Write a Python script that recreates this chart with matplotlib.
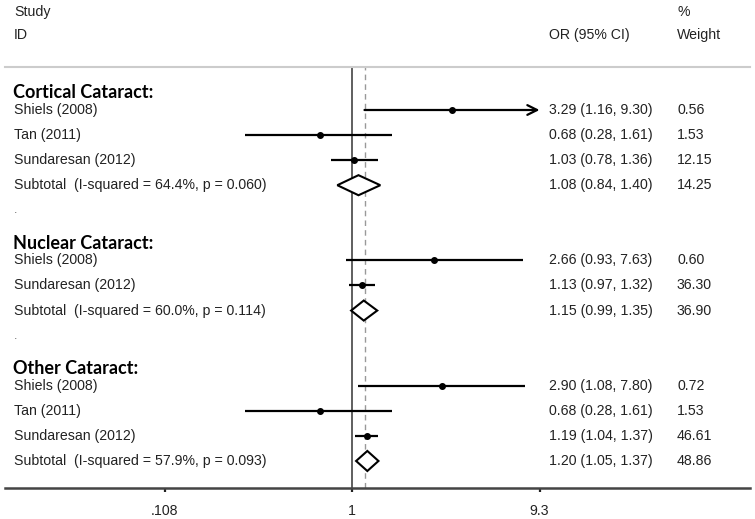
import numpy as np
import matplotlib
matplotlib.use("Agg")
import matplotlib.pyplot as plt
import matplotlib.transforms as mtransforms
from matplotlib.patches import Polygon
from matplotlib.ticker import NullLocator

# data
group_names = ["Cortical Cataract:", "Nuclear Cataract:", "Other Cataract:"]

cortical_studies = ["Shiels (2008)", "Tan (2011)", "Sundaresan (2012)"]
cortical_or = [3.29, 0.68, 1.03]
cortical_lo = [1.16, 0.28, 0.78]
cortical_hi = [9.30, 1.61, 1.36]
cortical_wt = [0.56, 1.53, 12.15]

nuclear_studies = ["Shiels (2008)", "Sundaresan (2012)"]
nuclear_or = [2.66, 1.13]
nuclear_lo = [0.93, 0.97]
nuclear_hi = [7.63, 1.32]
nuclear_wt = [0.60, 36.30]

other_studies = ["Shiels (2008)", "Tan (2011)", "Sundaresan (2012)"]
other_or = [2.90, 0.68, 1.19]
other_lo = [1.08, 0.28, 1.04]
other_hi = [7.80, 1.61, 1.37]
other_wt = [0.72, 1.53, 46.61]

subtotal_or = [1.08, 1.15, 1.20]
subtotal_lo = [0.84, 0.99, 1.05]
subtotal_hi = [1.40, 1.35, 1.37]
subtotal_wt = [14.25, 36.90, 48.86]
subtotal_i2 = ["64.4%", "60.0%", "57.9%"]
subtotal_p = ["0.060", "0.114", "0.093"]

overall_or = 1.17
xticks = [0.108, 1, 9.3]
xticklabels = [".108", "1", "9.3"]

groups = [
    (cortical_studies, cortical_or, cortical_lo, cortical_hi, cortical_wt),
    (nuclear_studies, nuclear_or, nuclear_lo, nuclear_hi, nuclear_wt),
    (other_studies, other_or, other_lo, other_hi, other_wt),
]

W, H = 755, 519
fig = plt.figure(figsize=(W / 100, H / 100), dpi=100)
ax = fig.add_axes([5 / W, (H - 488) / H, 745 / W, 421 / H])

# log x axis, 1 at pixel 352
px_per_ln = 84.1
x_one = 352
ax.set_xscale("log")
ax.set_xlim(np.exp((5 - x_one) / px_per_ln), np.exp((750 - x_one) / px_per_ln))
row_px, row0 = 25.07, 110
ax.set_ylim((488 - row0) / row_px, (67 - row0) / row_px)

for s in ["left", "right"]:
    ax.spines[s].set_visible(False)
ax.spines["top"].set_color("#cccccc")
ax.spines["top"].set_linewidth(1.5)
ax.spines["bottom"].set_color("#444444")
ax.spines["bottom"].set_linewidth(1.8)
ax.set_yticks([])
ax.set_xticks(xticks)
ax.set_xticklabels(xticklabels)
ax.xaxis.set_minor_locator(NullLocator())
ax.tick_params(axis="x", length=3, width=1.6, color="#222222", pad=8.5,
               labelsize=10.2, labelcolor="#222222")
for lab in ax.get_xticklabels():
    lab.set_family("Liberation Sans")

ax.axvline(1, color="#444444", lw=1.2)
ax.axvline(overall_or, color="#999999", lw=1, ls=(0, (4, 3)))

txt = dict(family="Liberation Sans", fontsize=10.2, color="#222222", va="center")
tr = mtransforms.blended_transform_factory(fig.transFigure, ax.transData)
x_name, x_or, x_wt = 14 / W, 549 / W, 677 / W

fig.text(x_name, 1 - 12 / H, "Study", **txt)
fig.text(x_name, 1 - 35 / H, "ID", **txt)
fig.text(x_or, 1 - 35 / H, "OR (95% CI)", **txt)
fig.text(x_wt, 1 - 12 / H, "%", **txt)
fig.text(x_wt, 1 - 35 / H, "Weight", **txt)

r = -1
for g, (names, ors, los, his, wts) in enumerate(groups):
    ax.text(13 / W, r + 0.32, group_names[g], transform=tr, family="Lato",
            fontweight="bold", fontsize=13, color="black", va="center")
    r += 1
    for name, o, lo, hi, wt in zip(names, ors, los, his, wts):
        if hi >= xticks[-1]:
            ax.annotate("", xy=(xticks[-1], r), xytext=(lo, r),
                        arrowprops=dict(arrowstyle="->,head_length=0.7,head_width=0.35",
                                        color="black", lw=1.6, shrinkA=0, shrinkB=0))
        else:
            ax.plot([lo, hi], [r, r], color="black", lw=1.6, solid_capstyle="butt")
        ax.plot(o, r, "o", color="black", ms=4)
        ax.text(x_name, r, name, transform=tr, **txt)
        ax.text(x_or, r, f"{o:.2f} ({lo:.2f}, {hi:.2f})", transform=tr, **txt)
        ax.text(x_wt, r, f"{wt:.2f}", transform=tr, **txt)
        r += 1
    o, lo, hi = subtotal_or[g], subtotal_lo[g], subtotal_hi[g]
    ax.add_patch(Polygon([(lo, r), (o, r - 0.4), (hi, r), (o, r + 0.4)], closed=True,
                         facecolor="white", edgecolor="black", lw=1.5, zorder=3))
    ax.text(x_name, r, f"Subtotal  (I-squared = {subtotal_i2[g]}, p = {subtotal_p[g]})",
            transform=tr, **txt)
    ax.text(x_or, r, f"{o:.2f} ({lo:.2f}, {hi:.2f})", transform=tr, **txt)
    ax.text(x_wt, r, f"{subtotal_wt[g]:.2f}", transform=tr, **txt)
    r += 1
    if g < len(groups) - 1:
        ax.text(x_name, r, ".", transform=tr, family="Liberation Sans",
                fontsize=9, color="#666666", va="center")
        r += 1

fig.savefig("out.png", dpi=100)
